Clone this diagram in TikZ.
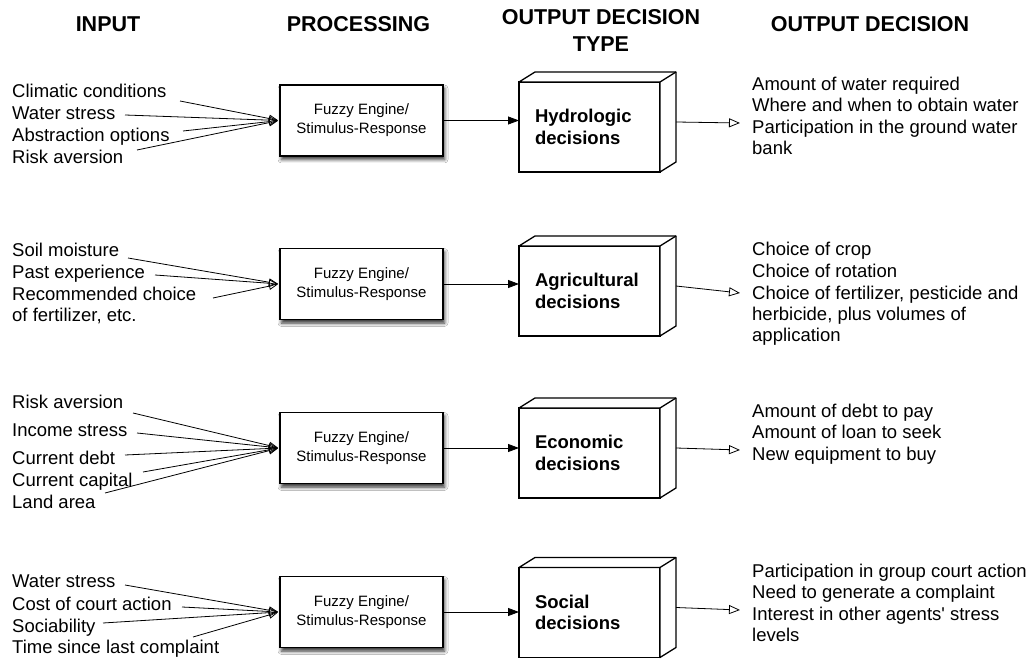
\documentclass[tikz,border=0pt]{standalone}
\usepackage{fontspec}
\setmainfont{Liberation Sans}
\usetikzlibrary{arrows.meta,calc,shadows.blur,backgrounds}

\begin{document}
\begin{tikzpicture}[x=1pt,y=-1pt,
  head/.style={font=\fontsize{21.5}{27}\selectfont\bfseries, inner sep=0pt, anchor=base, align=center},
  inlabel/.style={font=\fontsize{18.5}{22}\selectfont, inner sep=0pt, anchor=base west},
  outlabel/.style={font=\fontsize{18.5}{21.5}\selectfont, inner sep=0pt, anchor=base west, align=left},
  softshadow/.style={blur shadow={shadow xshift=1.5pt, shadow yshift=-3.5pt, shadow blur radius=3.5pt, shadow opacity=80}},
  engine/.style={draw, line width=1.2pt, fill=white, minimum width=163pt, minimum height=71pt,
    align=center, font=\fontsize{15}{19}\selectfont, softshadow},
  decision/.style={draw, line width=1.3pt, fill=white, outer sep=0pt, minimum height=90pt,
    text width=109pt, inner xsep=16pt, align=left, font=\fontsize{18.5}{21.5}\selectfont\bfseries},
  face/.style={draw, line width=1.3pt, fill=white, line join=round},
  inarrow/.style={line width=0.8pt, shorten >=1.5pt, -{Triangle[open, length=9pt, width=7.5pt]}},
  procarrow/.style={line width=0.8pt, -{Triangle[length=11pt, width=8pt]}},
  outarrow/.style={line width=0.8pt, -{Triangle[open, length=11pt, width=9pt]}},
]
\useasboundingbox (0,0) rectangle (1034,660);
\fill[white] (0,0) rectangle (1034,660);

% column headings (multi-line nodes sit on the baseline of their last line)
\node[head] (hin)   at (108,32)   {INPUT};
\node[head] (hproc) at (358.5,32) {PROCESSING};
\node[head] (htype) at (601,52)   {OUTPUT DECISION\\TYPE};
\node[head] (hout)  at (870,32)   {OUTPUT DECISION};

% decision box: front face node plus top and right faces
\newcommand\decisionfaces[1]{%
  \begin{scope}[on background layer]
    \path[fill=white, softshadow] (#1.south west) -- (#1.north west) -- ++(16,-10)
      -- ($(#1.north east)+(16,-10)$) -- ($(#1.south east)+(16,-10)$) -- (#1.south east) -- cycle;
  \end{scope}
  \path[face] (#1.north west) -- ++(16,-10) -- ($(#1.north east)+(16,-10)$)
    -- ($(#1.south east)+(16,-10)$) -- (#1.south east) -- (#1.north east) -- cycle;
  \draw[line width=1.3pt] (#1.north east) -- ++(16,-10);
}

% ---------- row 1: hydrologic ----------
\node[inlabel] (a11) at (12,98)  {Climatic conditions};
\node[inlabel] (a12) at (12,120) {Water stress};
\node[inlabel] (a13) at (12,142) {Abstraction options};
\node[inlabel] (a14) at (12,164) {Risk aversion};
\node[engine] (f1) at (361.5,120.5) {Fuzzy Engine/\\Stimulus-Response};
\node[decision] (d1) at (589.5,127) {Hydrologic\\decisions};
\decisionfaces{d1}
\node[outlabel] (o1) at (752,155) {Amount of water required\\Where and when to obtain water\\Participation in the ground water\\bank};

\coordinate (s11) at (180,101);
\coordinate (s12) at (125,115);
\coordinate (s13) at (183,131);
\coordinate (s14) at (137,150);
\foreach \s in {s11,s12,s13,s14} \draw[inarrow] (\s) -- (f1.west);
\draw[procarrow] (f1.east) -- (f1.east -| d1.west);
\coordinate (t1) at (740,123);
\draw[outarrow] ($(d1.east)+(16,-5)$) -- (t1);

% ---------- row 2: agricultural ----------
\node[inlabel] (a21) at (12,257) {Soil moisture};
\node[inlabel] (a22) at (12,279) {Past experience};
\node[inlabel] (a23) at (12,301) {Recommended choice};
\node[inlabel] (a24) at (12,322) {of fertilizer, etc.};
\node[engine] (f2) at (361.5,284) {Fuzzy Engine/\\Stimulus-Response};
\node[decision] (d2) at (589.5,291) {Agricultural\\decisions};
\decisionfaces{d2}
\node[outlabel] (o2) at (752,342) {Choice of crop\\Choice of rotation\\Choice of fertilizer, pesticide and\\herbicide, plus volumes of\\application};

\coordinate (s21) at (128,258);
\coordinate (s22) at (155,275);
\coordinate (s23) at (213,298);
\foreach \s in {s21,s22,s23} \draw[inarrow] (\s) -- (f2.west);
\draw[procarrow] (f2.east) -- (f2.east -| d2.west);
\coordinate (t2) at (740,293);
\draw[outarrow] ($(d2.east)+(16,-5)$) -- (t2);

% ---------- row 3: economic ----------
\node[inlabel] (a31) at (12,409) {Risk aversion};
\node[inlabel] (a32) at (12,436) {Income stress};
\node[inlabel] (a33) at (12,464) {Current debt};
\node[inlabel] (a34) at (12,486) {Current capital};
\node[inlabel] (a35) at (12,508) {Land area};
\node[engine] (f3) at (361.5,448) {Fuzzy Engine/\\Stimulus-Response};
\node[decision] (d3) at (589.5,453) {Economic\\decisions};
\decisionfaces{d3}
\node[outlabel] (o3) at (752,460) {Amount of debt to pay\\Amount of loan to seek\\New equipment to buy};

\coordinate (s31) at (133,413);
\coordinate (s32) at (137,433);
\coordinate (s33) at (125,455);
\coordinate (s34) at (143,472);
\coordinate (s35) at (105,493);
\foreach \s in {s31,s32,s33,s34,s35} \draw[inarrow] (\s) -- (f3.west);
\draw[procarrow] (f3.east) -- (f3.east -| d3.west);
\coordinate (t3) at (740,450);
\draw[outarrow] ($(d3.east)+(16,-5)$) -- (t3);

% ---------- row 4: social ----------
\node[inlabel] (a41) at (12,587) {Water stress};
\node[inlabel] (a42) at (12,610) {Cost of court action};
\node[inlabel] (a43) at (12,632) {Sociability};
\node[inlabel] (a44) at (12,653) {Time since last complaint};
\node[engine] (f4) at (361.5,612) {Fuzzy Engine/\\Stimulus-Response};
\node[decision] (d4) at (589.5,612.5) {Social\\decisions};
\decisionfaces{d4}
\node[outlabel] (o4) at (752,641.5) {Participation in group court action\\Need to generate a complaint\\Interest in other agents\textquotesingle{} stress\\levels};

\coordinate (s41) at (125,585);
\coordinate (s42) at (182,607);
\coordinate (s43) at (103,623);
\coordinate (s44) at (193,637);
\foreach \s in {s41,s42,s43,s44} \draw[inarrow] (\s) -- (f4.west);
\draw[procarrow] (f4.east) -- (f4.east -| d4.west);
\coordinate (t4) at (740,610);
\draw[outarrow] ($(d4.east)+(16,-5)$) -- (t4);
\end{tikzpicture}
\end{document}
